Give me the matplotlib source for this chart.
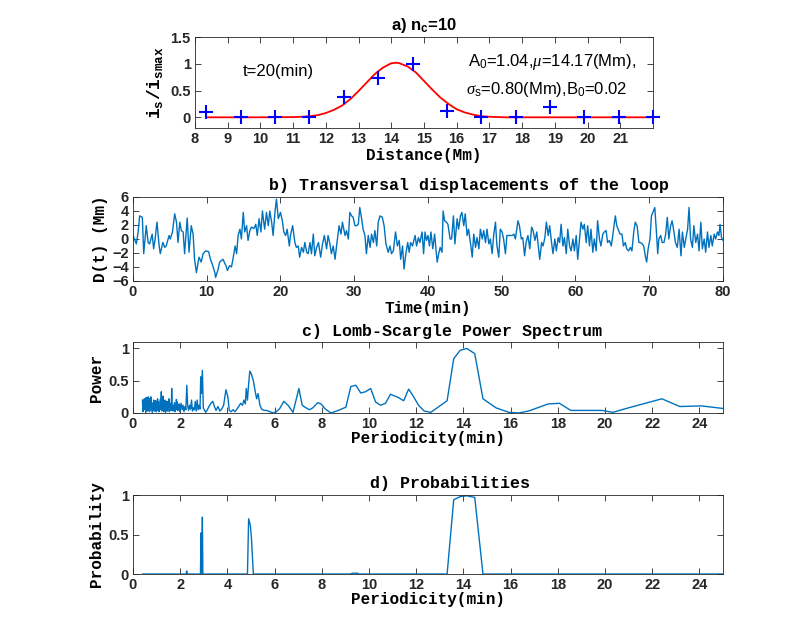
import numpy as np
import matplotlib
matplotlib.use('Agg')
import matplotlib.pyplot as plt

plt.rcParams['mathtext.fontset'] = 'custom'
plt.rcParams['mathtext.rm'] = 'Liberation Sans'
plt.rcParams['mathtext.it'] = 'Liberation Serif:italic'
plt.rcParams['mathtext.bf'] = 'Liberation Sans:bold'
plt.rcParams['mathtext.tt'] = 'Liberation Mono:bold'

#%% Data

# a) intensity profile across the loop
dist_pts = [8.35, 9.40, 10.45, 11.50, 12.55, 13.60, 14.65, 15.70, 16.75, 17.80,
            18.85, 19.90, 20.95, 22.00]
inten_pts = [0.10, 0.0, 0.0, 0.0, 0.38, 0.73, 1.00, 0.12, 0.0, 0.0, 0.20, 0.0,
             0.0, 0.0]
fit_x = [8.35, 10.0, 11.0, 11.25, 11.5, 11.75, 12.0, 12.25, 12.5, 12.75, 13.0,
         13.25, 13.5, 13.75, 14.0, 14.17, 14.25, 14.5, 14.75, 15.0, 15.25, 15.5,
         15.75, 16.0, 16.25, 16.5, 16.75, 17.0, 17.5, 18.5, 22.0]
fit_y = [0.0, 0.0, 0.004, 0.01, 0.02, 0.04, 0.08, 0.14, 0.22, 0.34, 0.49,
         0.65, 0.81, 0.93, 1.01, 1.02, 1.01, 0.95, 0.84, 0.68, 0.52, 0.37,
         0.25, 0.15, 0.09, 0.05, 0.02, 0.01, 0.0, 0.0, 0.0]

# b) transversal displacement D(t)
time_min = [0, 0.45, 0.7, 0.9, 1.27, 1.45, 1.8, 2.05, 2.25, 2.6, 2.8, 3.0, 3.25,
            3.55, 3.7, 4.05, 4.3, 4.5, 4.9, 5.05, 5.35, 5.65, 5.9, 6.1, 6.35,
            6.55, 6.8, 7.0, 7.35, 7.6, 7.9, 8.15, 8.35, 8.6, 8.95, 9.25, 9.5,
            9.85, 10.25, 10.5, 10.75, 11.1, 11.2, 11.55, 11.75, 12.2, 12.6,
            12.8, 13.1, 13.35, 13.55, 13.85, 14.05, 14.25, 14.5, 14.7, 14.95,
            15.15, 15.4, 15.6, 15.85, 16.05, 16.4, 16.65, 16.85, 17.1, 17.35,
            17.55, 17.85, 18.1, 18.35, 18.55, 18.8, 19.0, 19.25, 19.45, 19.7,
            20.0, 20.25, 20.45, 20.7, 20.9, 21.2, 21.35, 21.65, 21.95, 22.15,
            22.4, 22.6, 22.85, 23.1, 23.3, 23.55, 23.75, 24.0, 24.2, 24.45,
            24.65, 24.9, 25.15, 25.45, 25.7, 25.95, 26.25, 26.45, 26.7, 26.9,
            27.15, 27.4, 27.6, 27.95, 28.2, 28.4, 28.75, 28.95, 29.2, 29.4,
            29.65, 29.85, 30.1, 30.3, 30.55, 30.75, 31.0, 31.2, 31.45, 31.65,
            31.9, 32.15, 32.35, 32.6, 32.8, 33.05, 33.25, 33.5, 33.8, 34.05,
            34.3, 34.6, 34.85, 35.05, 35.3, 35.6, 35.85, 36.1, 36.3, 36.55,
            36.75, 37.0, 37.25, 37.45, 37.65, 37.9, 38.25, 38.45, 38.7, 38.9,
            39.2, 39.4, 39.6, 39.8, 40.0,
            40.2, 40.4, 40.65, 40.9, 41.1, 41.25, 41.45, 41.65, 41.9, 42.05,
            42.25, 42.5, 42.7, 43.0, 43.2, 43.45, 43.65, 43.95, 44.15, 44.4,
            44.6, 44.85, 45.05, 45.3, 45.5, 45.75, 46.0, 46.2, 46.45, 46.65,
            46.9, 47.1, 47.35, 47.55, 47.8, 48.0, 48.25, 48.45, 48.7, 48.9,
            49.15, 49.35, 49.6, 49.8, 50.05, 50.25, 50.5, 50.7, 50.95, 51.2,
            51.4, 51.65, 51.85, 52.2, 52.4, 52.65, 52.85, 53.1, 53.3, 53.55,
            53.8, 54.05, 54.25, 54.5, 54.75, 54.95, 55.15, 55.4, 55.6, 55.85,
            56.05, 56.3, 56.5, 56.75, 56.95, 57.2, 57.4, 57.65, 57.85, 58.05,
            58.3, 58.5, 58.75, 58.95, 59.2, 59.4, 59.65, 59.85, 60.1, 60.3,
            60.55, 60.75, 61.0, 61.2, 61.45, 61.65, 61.9, 62.1, 62.35, 62.55,
            62.8, 63.0, 63.25, 63.45, 63.7, 63.9, 64.15, 64.35, 64.6, 64.85,
            65.05, 65.4, 65.6, 65.85, 66.05, 66.3, 66.5, 66.75, 66.95, 67.2,
            67.45, 67.65, 67.9, 68.1, 68.35, 68.6, 68.8, 69.05, 69.25, 69.5,
            69.65, 69.85, 70.1, 70.3, 70.5, 70.75, 70.95, 71.15, 71.3, 71.55,
            71.75, 72.0, 72.2, 72.45, 72.65, 72.9, 73.1, 73.35, 73.55, 73.8,
            74.05, 74.3, 74.5, 74.75, 74.95, 75.2, 75.4, 75.6, 75.85, 76.05,
            76.3, 76.55, 76.75, 77.0, 77.2, 77.45, 77.65, 77.9, 78.1, 78.35,
            78.55, 78.8, 79.0, 79.25, 79.45, 79.6, 79.8, 80.0]
disp_mm = [0.5, -0.7, 1.0, 3.3, 3.1, -2.1, 1.9, -0.5, -0.7, 0.7, -1.4, 0.0, 2.4,
           -1.0, -2.1, -0.5, -1.2, -1.0, 0.5, 0.0, 1.0, 3.6, 2.4, -0.5, 2.4,
           1.2, 1.0, -2.1, 3.0, -1.9, 1.9, 0.7, -2.9, -4.8, -2.6, -3.3, -2.1,
           -1.7, -1.8, -2.9, -3.6, -4.8, -5.5, -4.3, -3.3, -2.9, -3.8,
           -4.5, -3.8, -4.0, -2.9, -1.0, -2.1, 0.5, 1.4, 0.0, 3.8,
           1.0, 1.9, -0.2, 1.2, 1.7, 1.5, 2.1, 0.5, 2.9, 1.0,
           4.0, 1.4, 3.8, 1.9, 4.0, 2.4, 0.5, 3.8, 5.7, 2.9,
           3.8, 2.6, 1.0, 0.5, 1.4, -1.0, 0.5, 1.9, -0.5, -1.2,
           -1.0, -2.6, -1.2, -1.9, -0.5, -1.9, -2.1, -0.5, -2.1, 0.7,
           -2.4, -1.2, -0.5, -2.6, -0.7, 0.5, -1.4, 0.5, -0.7, -2.1,
           -1.0, -2.9, -1.0, 1.9, 0.7, 2.4, 0.5, 1.2, 0.0, 3.8,
           3.3, 3.1, 1.9, 1.9, 2.1, 4.5, 2.9, 1.4, 0.5, -2.1,
           0.5, -1.2, 0.7, -0.5, 1.2, -1.0, 2.4, 3.3, 3.1, 1.9,
           -0.7, -1.9, -1.0, -2.1, -1.7, 1.0, -1.0, -0.2, -2.9, -1.0,
           -4.3, -2.1, -0.5, -1.9, -0.5, -1.0, 0.5, -1.0, 0.2, -0.5,
           1.0, -2.1, 1.0, -0.2, 0.5,
           -1.0, 1.0, -1.4, 0.7, -1.7, -3.3, -2.1, -1.2, -1.9, 4.0,
           2.6, 2.4, 2.1, 0.0, 0.0, 3.3, -0.7, 2.9, 1.4, 3.3,
           3.8, 1.9, 3.6, 0.5, 1.4, -0.5, -2.6, 0.7, -1.2, 0.2,
           -1.4, 1.4, 0.0, 1.2, -0.5, 1.4, -0.7, 0.0, -2.1, 0.5,
           2.4, -1.0, -2.6, 1.4, 1.0, 0.0, -2.1, 0.5, 0.5, 0.5,
           0.5, 0.7, 0.0, 2.6, 1.9, 0.0, 0.2, -2.4, -0.5, 0.5,
           -1.4, 1.7, 1.2, -0.2, 1.0, -1.0, -2.9, -0.5, -1.0, 0.2,
           2.4, 0.5, 1.9, -0.5, -2.1, 0.0, -1.7, 0.2, -0.5, 2.1,
           -1.0, 0.2, -2.1, 1.4, -1.0, -1.7, 0.0, -1.7, 0.5, -2.9,
           0.0, 2.4, 1.4, 2.1, -0.5, 1.9, -1.0, 1.4, -1.9, 0.0,
           -1.7, 2.6, 0.0, -1.0, 0.7, 1.0, 1.2, -0.5, -0.2, -1.0,
           0.5, 3.3, 1.9, 1.2, 0.7, 0.7, -1.0, -0.5, -1.4, -1.7,
           -1.2, -1.7, 1.0, 2.4, 1.9, -0.5, -0.5, -0.7, -1.0, -2.6,
           -3.3, -1.4, 0.0, 3.3, 3.8, 4.5, 1.4, -2.1, 0.0, 0.5,
           -0.5, -0.5, 0.5, 3.1, 0.0, 1.9, 2.6, 1.0, -0.5, -1.2,
           1.4, -2.4, 1.0, -1.2, 0.0, 1.4, 4.5, 0.0, -1.2, 1.9,
           -0.5, 0.7, -1.7, 2.4, -1.4, 0.0, -1.9, 1.0, -1.2, 0.5,
           -1.0, 0.7, 0.0, 1.0, 0.5, 2.1, 0.2, -0.2]

# c) Lomb-Scargle power spectrum
period_c = [0.40, 0.42, 0.44, 0.46, 0.48, 0.50, 0.52, 0.54, 0.56, 0.58, 0.60,
            0.62, 0.64, 0.66, 0.68, 0.70, 0.72, 0.74, 0.76, 0.78, 0.80, 0.82,
            0.84, 0.86, 0.88, 0.90, 0.92, 0.94, 0.96, 0.98, 1.00, 1.02, 1.04,
            1.06, 1.08, 1.10, 1.12, 1.14, 1.16, 1.18, 1.20, 1.22, 1.24, 1.26,
            1.28, 1.30, 1.32, 1.34, 1.36, 1.38, 1.40, 1.42, 1.44, 1.46, 1.48,
            1.50, 1.52, 1.54, 1.56, 1.58, 1.60, 1.62, 1.64, 1.66, 1.68, 1.70,
            1.72, 1.74, 1.76, 1.78, 1.80, 1.82, 1.84, 1.86, 1.88, 1.90, 1.92,
            1.94, 1.96, 1.98, 2.00,
            2.04, 2.08, 2.12, 2.16, 2.20, 2.24, 2.28, 2.32, 2.36, 2.40, 2.44,
            2.48, 2.52, 2.56, 2.60, 2.64, 2.68, 2.72, 2.76, 2.80, 2.84, 2.87,
            2.90, 2.94, 2.98, 3.02, 3.08, 3.15, 3.22, 3.30, 3.38, 3.45, 3.52,
            3.60, 3.68, 3.76, 3.84, 3.94, 4.02, 4.08, 4.16, 4.24, 4.32, 4.40,
            4.48, 4.56, 4.64, 4.70, 4.76, 4.80, 4.85, 4.90, 4.95, 5.02, 5.10,
            5.17, 5.24, 5.30, 5.38, 5.45, 5.55, 5.66, 5.80, 5.94, 6.08, 6.22,
            6.39, 6.57, 6.78, 7.03, 7.17, 7.33, 7.48, 7.62, 7.83, 7.97, 8.15,
            8.39, 8.70, 9.02, 9.23, 9.44, 9.65, 9.86, 10.07, 10.28, 10.49,
            10.70, 10.91, 11.24, 11.47, 11.68, 11.86, 12.10, 12.34, 12.62,
            13.31, 13.59, 13.86, 14.14, 14.48, 14.83, 15.38, 15.93, 16.34,
            16.76, 17.59, 18.07, 18.55, 19.86, 20.34, 20.90, 22.41, 23.17,
            24.07, 25.00]
power_c = [0.20, 0.02, 0.18, 0.05, 0.22, 0.08, 0.15, 0.01, 0.24, 0.10, 0.21,
           0.03, 0.25, 0.06, 0.18, 0.02, 0.23, 0.09, 0.25, 0.04, 0.16, 0.01,
           0.12, 0.05, 0.20, 0.03, 0.14, 0.07, 0.19, 0.02, 0.15, 0.06, 0.22,
           0.04, 0.17, 0.02, 0.11, 0.05, 0.21, 0.08, 0.33, 0.03, 0.16, 0.07,
           0.26, 0.02, 0.13, 0.09, 0.20, 0.01, 0.14, 0.06, 0.18, 0.03, 0.12,
           0.10, 0.22, 0.02, 0.09, 0.05, 0.15, 0.04, 0.38, 0.06, 0.12, 0.03,
           0.10, 0.07, 0.16, 0.02, 0.12, 0.05, 0.21, 0.08, 0.17, 0.04, 0.10,
           0.06, 0.14, 0.02, 0.09,
           0.15, 0.05, 0.12, 0.02, 0.10, 0.05, 0.43, 0.10, 0.04, 0.12, 0.06,
           0.20, 0.03, 0.08, 0.05, 0.18, 0.03, 0.20, 0.05, 0.12, 0.06, 0.56,
           0.30, 0.66, 0.08, 0.05, 0.01, 0.05, 0.10, 0.15, 0.18, 0.10, 0.04,
           0.10, 0.03, 0.06, 0.12, 0.36, 0.25, 0.04, 0.02, 0.05, 0.02, 0.06,
           0.10, 0.15, 0.12, 0.20, 0.14, 0.38, 0.20, 0.45, 0.65, 0.60, 0.50,
           0.35, 0.22, 0.30, 0.12, 0.06, 0.04, 0.04, 0.02, 0.00, 0.02, 0.07,
           0.18, 0.12, 0.01, 0.38, 0.12, 0.08, 0.05, 0.08, 0.16, 0.14, 0.06,
           0.00, 0.04, 0.09, 0.41, 0.43, 0.31, 0.33, 0.38, 0.17, 0.12,
           0.15, 0.29, 0.24, 0.19, 0.37, 0.27, 0.12, 0.03, 0.01,
           0.19, 0.84, 0.97, 1.00, 0.92, 0.22, 0.08, 0.01, 0.00,
           0.03, 0.14, 0.15, 0.04, 0.04, 0.01, 0.07, 0.22, 0.10,
           0.11, 0.07]

# d) probabilities
period_d = [0.40, 2.25, 2.28, 2.31, 2.86, 2.88, 2.90, 2.92, 2.94, 2.96, 4.85,
            4.90, 4.97, 5.02, 5.10, 9.20, 9.30, 9.50, 9.60, 13.31, 13.59, 13.86,
            14.14, 14.48, 14.83, 25.00]
prob_d = [0.0, 0.0, 0.04, 0.0, 0.0, 0.52, 0.0, 0.0, 0.72, 0.0, 0.0,
          0.70, 0.62, 0.45, 0.0, 0.0, 0.01, 0.01, 0.0, 0.0, 0.94, 0.98,
          0.99, 0.97, 0.0, 0.0]

#%% Plot

mblue = '#0072BD'
mono = 'Liberation Mono'
sans = 'Liberation Sans'

fig = plt.figure(figsize=(8.07, 6.34), dpi=100)


def style_axes(ax):
    ax.tick_params(direction='in', top=True, right=True, length=4, width=0.6,
                   labelsize=10.5, colors='#262626', pad=3)
    for lab in ax.get_xticklabels() + ax.get_yticklabels():
        lab.set_fontweight('bold')
        lab.set_fontfamily(sans)
    for sp in ax.spines.values():
        sp.set_linewidth(0.6)
        sp.set_color('#262626')


def mono_title(ax, txt, xpos, pad):
    # matlab put these titles a bit right of centre
    ax.set_title(txt, fontfamily=mono, fontweight='bold', fontsize=12,
                 x=xpos, pad=pad)


# Panel a
ax1 = fig.add_axes([0.2416, 0.7981, 0.5675, 0.1435])
ax1.plot(fit_x, fit_y, color='red', lw=1.3)
ax1.plot(dist_pts, inten_pts, '+', color='blue', ms=10, mew=1.5, clip_on=False)
ax1.set_xlim(8, 22)
ax1.set_ylim(-0.2, 1.5)
ax1.set_xticks(range(8, 22))
ax1.set_yticks([0, 0.5, 1, 1.5])
ax1.set_yticklabels(['0', '0.5', '1', '1.5'])
style_axes(ax1)
ax1.set_title(r'a) n$_\mathbf{c}$=10', fontfamily=sans, fontweight='bold',
              fontsize=12, pad=5)
ax1.set_xlabel('Distance(Mm)', fontfamily=mono, fontweight='bold',
               fontsize=11.5, labelpad=1)
ax1.set_ylabel(r'$\mathtt{i_s/i_{smax}}$', fontsize=13, labelpad=4)
ax1.text(9.45, 0.86, 't=20(min)', fontfamily=sans, fontsize=12, va='center')
ax1.text(16.35, 1.03, r'A$_0$=1.04,$\mu$=14.17(Mm),', fontfamily=sans,
         fontsize=12, va='center')
ax1.text(16.3, 0.52, r'$\sigma$$_\mathrm{s}$=0.80(Mm),B$_0$=0.02',
         fontfamily=sans, fontsize=12, va='center')

# Panel b
ax2 = fig.add_axes([0.1648, 0.5568, 0.7311, 0.1325])
ax2.plot(time_min, disp_mm, color=mblue, lw=1.0)
ax2.set_xlim(0, 80)
ax2.set_ylim(-6, 6)
ax2.set_xticks(range(0, 81, 10))
ax2.set_yticks(range(-6, 7, 2))
style_axes(ax2)
mono_title(ax2, 'b) Transversal displacements of the loop', 0.569, 5)
ax2.set_xlabel('Time(min)', fontfamily=mono, fontweight='bold', fontsize=11.5,
               labelpad=1)
ax2.set_ylabel('D(t) (Mm)', fontfamily=mono, fontweight='bold', fontsize=11.5,
               labelpad=3)

# Panel c
ax3 = fig.add_axes([0.1648, 0.3486, 0.7311, 0.112])
ax3.plot(period_c, power_c, color=mblue, lw=1.0)
ax3.set_xlim(0, 25)
ax3.set_ylim(0, 1.1)
ax3.set_xticks(range(0, 25, 2))
ax3.set_yticks([0, 0.5, 1])
ax3.set_yticklabels(['0', '0.5', '1'])
style_axes(ax3)
mono_title(ax3, 'c) Lomb-Scargle Power Spectrum', 0.541, 4)
ax3.set_xlabel('Periodicity(min)', fontfamily=mono, fontweight='bold',
               fontsize=11.5, labelpad=0)
ax3.set_ylabel('Power', fontfamily=mono, fontweight='bold', fontsize=11.5,
               labelpad=3)

# Panel d
ax4 = fig.add_axes([0.1648, 0.0946, 0.7311, 0.1246])
ax4.plot(period_d, prob_d, color=mblue, lw=1.0)
ax4.set_xlim(0, 25)
ax4.set_ylim(0, 1)
ax4.set_xticks(range(0, 25, 2))
ax4.set_yticks([0, 0.5, 1])
ax4.set_yticklabels(['0', '0.5', '1'])
style_axes(ax4)
mono_title(ax4, 'd) Probabilities', 0.537, 5)
ax4.set_xlabel('Periodicity(min)', fontfamily=mono, fontweight='bold',
               fontsize=11.5, labelpad=0)
ax4.set_ylabel('Probability', fontfamily=mono, fontweight='bold',
               fontsize=11.5, labelpad=3)

fig.savefig('out.png', dpi=100)
